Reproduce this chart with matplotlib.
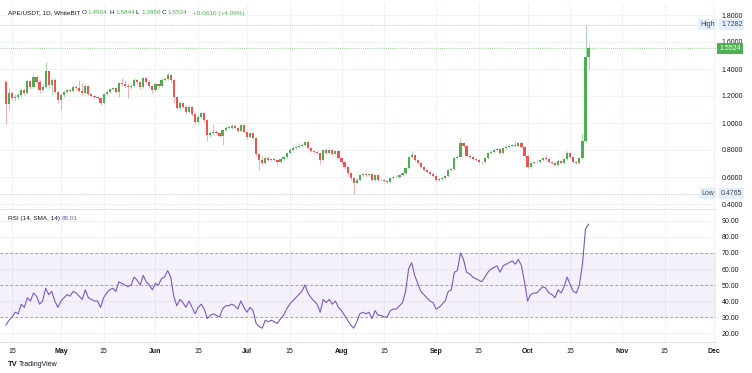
import pandas as pd
import numpy as np
import matplotlib.pyplot as plt
import matplotlib.dates as mdates
import matplotlib.transforms as mtransforms

plt.rcParams['font.family'] = ['Liberation Sans', 'DejaVu Sans']

# daily candles APE/USDT, first candle 13 Apr
start_date = "2023-04-13"
first_open = 1.304
closes = [
    1.139, 1.220, 1.183, 1.195, 1.207, 1.244, 1.220, 1.311, 1.269, 1.343,
    1.306, 1.244, 1.269, 1.385, 1.281, 1.319, 1.232, 1.170, 1.207, 1.232,
    1.244, 1.237, 1.269, 1.257, 1.237, 1.220, 1.276, 1.213, 1.202, 1.195,
    1.187, 1.146, 1.213, 1.232, 1.252, 1.257, 1.232, 1.294, 1.287, 1.274,
    1.269, 1.274, 1.319, 1.306, 1.269, 1.331, 1.304, 1.274, 1.244, 1.289,
    1.274, 1.319, 1.326, 1.356, 1.319, 1.195, 1.111, 1.148, 1.121, 1.084,
    1.121, 1.067, 1.010, 1.047, 1.072, 1.022, 0.911, 0.926, 0.936, 0.926,
    0.906, 0.948, 0.965, 0.965, 0.978, 0.963, 0.941, 0.985, 0.936, 0.899,
    0.924, 0.891, 0.768, 0.726, 0.704, 0.741, 0.726, 0.733, 0.726, 0.711,
    0.733, 0.748, 0.778, 0.800, 0.815, 0.822, 0.830, 0.837, 0.859, 0.815,
    0.793, 0.787, 0.778, 0.726, 0.800, 0.778, 0.800, 0.770, 0.793, 0.743,
    0.713, 0.676, 0.630, 0.593, 0.556, 0.578, 0.615, 0.622, 0.615, 0.622,
    0.578, 0.615, 0.578, 0.578, 0.570, 0.563, 0.593, 0.600, 0.600, 0.615,
    0.630, 0.667, 0.748, 0.763, 0.726, 0.704, 0.676, 0.652, 0.639, 0.622,
    0.610, 0.578, 0.583, 0.595, 0.607, 0.652, 0.659, 0.741, 0.750, 0.850,
    0.830, 0.756, 0.748, 0.733, 0.726, 0.713, 0.710, 0.741, 0.780, 0.787,
    0.800, 0.807, 0.778, 0.815, 0.824, 0.830, 0.837, 0.830, 0.850, 0.824,
    0.756, 0.676, 0.706, 0.711, 0.713, 0.726, 0.739, 0.733, 0.713, 0.706,
    0.689, 0.721, 0.704, 0.733, 0.780, 0.746, 0.713, 0.704, 0.739, 0.869,
    1.4904, 1.5524,
]
highs = [
    1.315, 1.262, 1.232, 1.212, 1.222, 1.258, 1.262, 1.325, 1.322, 1.360,
    1.352, 1.315, 1.290, 1.452, 1.392, 1.335, 1.330, 1.240, 1.220, 1.245,
    1.262, 1.255, 1.282, 1.285, 1.322, 1.300, 1.290, 1.282, 1.222, 1.210,
    1.200, 1.195, 1.222, 1.245, 1.262, 1.270, 1.265, 1.305, 1.330, 1.318,
    1.300, 1.290, 1.335, 1.328, 1.312, 1.342, 1.340, 1.315, 1.282, 1.300,
    1.298, 1.330, 1.340, 1.368, 1.362, 1.325, 1.200, 1.160, 1.155, 1.130,
    1.132, 1.128, 1.072, 1.058, 1.085, 1.080, 1.030, 0.940, 0.990, 0.945,
    0.935, 0.958, 0.975, 0.985, 0.992, 0.990, 0.970, 0.995, 0.990, 0.942,
    0.935, 0.930, 0.895, 0.775, 0.760, 0.752, 0.748, 0.742, 0.740, 0.732,
    0.742, 0.758, 0.788, 0.812, 0.830, 0.835, 0.850, 0.855, 0.870, 0.865,
    0.822, 0.800, 0.795, 0.785, 0.810, 0.815, 0.812, 0.805, 0.802, 0.798,
    0.750, 0.718, 0.680, 0.640, 0.600, 0.590, 0.625, 0.632, 0.630, 0.632,
    0.628, 0.625, 0.620, 0.588, 0.585, 0.578, 0.600, 0.610, 0.612, 0.625,
    0.640, 0.675, 0.758, 0.793, 0.770, 0.735, 0.712, 0.682, 0.660, 0.645,
    0.630, 0.615, 0.592, 0.602, 0.615, 0.660, 0.670, 0.750, 0.762, 0.887,
    0.862, 0.838, 0.770, 0.755, 0.740, 0.732, 0.722, 0.748, 0.788, 0.798,
    0.812, 0.820, 0.812, 0.822, 0.835, 0.842, 0.848, 0.870, 0.862, 0.858,
    0.830, 0.760, 0.715, 0.722, 0.725, 0.735, 0.748, 0.765, 0.740, 0.720,
    0.712, 0.730, 0.728, 0.742, 0.790, 0.785, 0.752, 0.720, 0.748, 0.926,
    1.7282, 1.5844,
]
lows = [
    0.990, 1.096, 1.170, 1.160, 1.175, 1.195, 1.205, 1.212, 1.255, 1.262,
    1.290, 1.225, 1.230, 1.260, 1.262, 1.210, 1.220, 1.150, 1.096, 1.195,
    1.225, 1.228, 1.230, 1.245, 1.228, 1.210, 1.212, 1.205, 1.192, 1.185,
    1.175, 1.135, 1.140, 1.205, 1.225, 1.245, 1.222, 1.195, 1.275, 1.260,
    1.183, 1.255, 1.265, 1.290, 1.250, 1.262, 1.295, 1.262, 1.225, 1.235,
    1.262, 1.268, 1.310, 1.318, 1.300, 1.150, 1.100, 1.100, 1.110, 1.070,
    1.075, 1.055, 0.995, 1.000, 1.040, 1.010, 0.867, 0.900, 0.915, 0.915,
    0.895, 0.837, 0.940, 0.955, 0.958, 0.955, 0.930, 0.935, 0.925, 0.885,
    0.890, 0.880, 0.755, 0.652, 0.690, 0.695, 0.715, 0.718, 0.715, 0.700,
    0.705, 0.725, 0.740, 0.770, 0.792, 0.808, 0.815, 0.822, 0.830, 0.805,
    0.785, 0.778, 0.770, 0.700, 0.720, 0.770, 0.770, 0.760, 0.762, 0.735,
    0.700, 0.660, 0.615, 0.580, 0.4765, 0.545, 0.570, 0.608, 0.605, 0.608,
    0.570, 0.570, 0.570, 0.568, 0.562, 0.552, 0.558, 0.585, 0.590, 0.595,
    0.608, 0.625, 0.660, 0.740, 0.718, 0.695, 0.668, 0.645, 0.630, 0.612,
    0.600, 0.568, 0.570, 0.575, 0.588, 0.600, 0.645, 0.655, 0.735, 0.745,
    0.820, 0.748, 0.740, 0.725, 0.718, 0.705, 0.700, 0.705, 0.735, 0.772,
    0.780, 0.795, 0.770, 0.772, 0.808, 0.818, 0.825, 0.822, 0.825, 0.815,
    0.748, 0.665, 0.668, 0.698, 0.702, 0.706, 0.720, 0.725, 0.705, 0.698,
    0.680, 0.685, 0.695, 0.698, 0.728, 0.738, 0.705, 0.695, 0.700, 0.735,
    0.860, 1.3956,
]
rsi = [
    25, 28, 30, 33, 32, 38, 36, 42, 40, 45,
    43, 38, 40, 48, 44, 46, 40, 36, 40, 42,
    44, 43, 46, 45, 43, 41, 47, 42, 41, 40,
    40, 36, 42, 45, 47, 48, 46, 52, 51, 50,
    49, 50, 55, 53, 50, 56, 52, 50, 47, 51,
    50, 54, 55, 59, 55, 43, 37, 41, 39, 36,
    40, 36, 32, 36, 38, 35, 29, 31, 32, 31,
    30, 35, 37, 37, 38, 37, 35, 40, 36, 33,
    36, 34, 26, 24, 23, 28, 27, 28, 27, 26,
    29, 31, 35, 38, 40, 42, 44, 46, 50, 45,
    42, 40, 38, 33, 41, 39, 41, 38, 40, 36,
    34, 31, 28, 25, 23, 27, 32, 33, 32, 33,
    29, 34, 31, 31, 30, 30, 34, 35, 35, 37,
    39, 46, 60, 64, 56, 51, 46, 44, 42, 40,
    39, 35, 36, 38, 40, 46, 47, 58, 59, 70,
    66, 58, 57, 55, 54, 53, 52, 55, 58, 60,
    61, 62, 58, 62, 63, 64, 65, 63, 66, 62,
    52, 40, 44, 45, 45, 47, 49, 48, 45, 44,
    42, 47, 45, 49, 55, 50, 46, 45, 50, 63,
    85, 88.01,
]

price_ticks = [0.4, 0.6, 0.8, 1.0, 1.2, 1.4, 1.6, 1.8]
rsi_ticks = [20, 30, 40, 50, 60, 70, 80, 90]
high_val, low_val, last_val = 1.7282, 0.4765, 1.5524

UP = '#4CAF50'
DOWN = '#EF5350'
GRID = '#F0F3FA'
TXT = '#131722'
PURPLE = '#7E57C2'

W, H = 752, 373
dates = pd.date_range(start_date, periods=len(closes), freq='D')
x = mdates.date2num(dates)
opens = [first_open] + closes[:-1]
o = np.array(opens)
c = np.array(closes)
up = c >= o
col = np.where(up, UP, DOWN)

fig = plt.figure(figsize=(W / 100, H / 100), dpi=100)
fig.patch.set_facecolor('white')
pane_right = 716 / W
ax = fig.add_axes([0, 1 - 209 / H, pane_right, (209 - 3) / H])
ax2 = fig.add_axes([0, 1 - 342 / H, pane_right, (342 - 211) / H], sharex=ax)

x0 = x[0] - 6 / 3.05
x1 = x[0] + (716 - 6) / 3.05
ax.set_xlim(x0, x1)
ax.set_ylim(0.8 - 59 / 135, 0.8 + 147 / 135)
ax2.set_ylim(50 - 57 / 1.6, 50 + 74 / 1.6)

# x ticks: 1st and 15th of each month
tick_dates = []
tick_labels = []
for m in range(4, 13):
    for d in (1, 15):
        t = pd.Timestamp(2023, m, d)
        if t < pd.Timestamp(2023, 4, 14) or t > pd.Timestamp(2023, 12, 1):
            continue
        tick_dates.append(mdates.date2num(t))
        tick_labels.append(t.strftime('%b') if d == 1 else '15')

for a in (ax, ax2):
    a.set_facecolor('white')
    for s in a.spines.values():
        s.set_visible(False)
    a.set_xticks(tick_dates)
    a.grid(True, color=GRID, linewidth=0.8)
    a.set_axisbelow(True)
    a.yaxis.tick_right()
    a.tick_params(length=0, labelsize=5, colors=TXT, pad=4)

ax.tick_params(axis='x', labelbottom=False)
ax2.set_xticklabels(tick_labels)
ax2.tick_params(axis='x', pad=4)
for lbl in ax2.get_xticklabels():
    if lbl.get_text() != '15':
        lbl.set_fontweight('bold')

ax.set_yticks(price_ticks)
ax.set_yticklabels([f'{v:.4f}' for v in price_ticks])
ax2.set_yticks(rsi_ticks)
ax2.set_yticklabels([f'{v:.2f}' for v in rsi_ticks])

for a in (ax, ax2):
    a.spines['bottom'].set_visible(True)
    a.spines['bottom'].set_color('#E0E3EB')
    a.spines['bottom'].set_linewidth(0.8)

# candles
ax.vlines(x, lows, highs, colors=col, linewidth=0.6, alpha=0.55, zorder=2)
body_lo = np.minimum(o, c)
body_h = np.maximum(np.abs(c - o), 0.003)
ax.bar(x, body_h, bottom=body_lo, width=0.72, color=col, linewidth=0, zorder=3)

# reference lines: high / last / low
ax.axhline(high_val, color='#B2B5BE', linewidth=0.6, linestyle=(0, (1, 1.5)), zorder=1)
ax.axhline(low_val, color='#B2B5BE', linewidth=0.6, linestyle=(0, (1, 1.5)), zorder=1)
ax.axhline(last_val, color=UP, linewidth=0.6, linestyle=(0, (1, 1.5)), alpha=0.7, zorder=1)

trans = mtransforms.blended_transform_factory(ax.transAxes, ax.transData)
tag_box = dict(boxstyle='square,pad=0.25', facecolor='#E3EFFD', edgecolor='none')
for name, v in (('High', high_val), ('Low', low_val)):
    ax.text(0.998, v, name, transform=trans, ha='right', va='center', fontsize=5,
            color='#434651', bbox=tag_box, zorder=6, clip_on=False)
    ax.text(1.007, v, f'{v:.4f}', transform=trans, ha='left', va='center', fontsize=5,
            color='#434651', bbox=tag_box, zorder=6, clip_on=False)
ax.text(1.005, last_val, f'{last_val:.4f}', transform=trans, ha='left', va='center',
        fontsize=5, color='white', zorder=7, clip_on=False,
        bbox=dict(boxstyle='square,pad=0.3', facecolor=UP, edgecolor='none'))

# RSI pane
ax2.axhspan(30, 70, color=PURPLE, alpha=0.08, linewidth=0)
for lvl in (30, 50, 70):
    ax2.axhline(lvl, color='#787B86', linewidth=0.6, linestyle=(0, (3, 3)), alpha=0.8)
ax2.plot(x, rsi, color=PURPLE, linewidth=0.8, zorder=3)


def ftext(px, py, s, **kw):
    fig.text(px / W, 1 - py / H, s, va='center', **kw)


hdr = 4.6
ftext(8, 13, 'APE/USDT, 1D, WhiteBIT', fontsize=hdr, color=TXT)
for lab, val, px in (('O', '1.4904', 82), ('H', '1.5844', 110),
                     ('L', '1.3956', 136), ('C', '1.5524', 162)):
    ftext(px, 13, lab, fontsize=hdr, color=TXT)
    ftext(px + 5, 13, val, fontsize=hdr, color=UP)
ftext(193, 13, '+0.0610 (+4.09%)', fontsize=hdr, color=UP)

ftext(8, 219, 'RSI (14, SMA, 14)', fontsize=hdr, color=TXT)
ftext(62, 219, '88.01', fontsize=hdr, color=PURPLE)

ftext(8, 364, 'TV', fontsize=5.5, color=TXT, fontweight='bold')
ftext(19, 364, 'TradingView', fontsize=5, color=TXT)

fig.savefig('out.png', dpi=100, facecolor='white')
